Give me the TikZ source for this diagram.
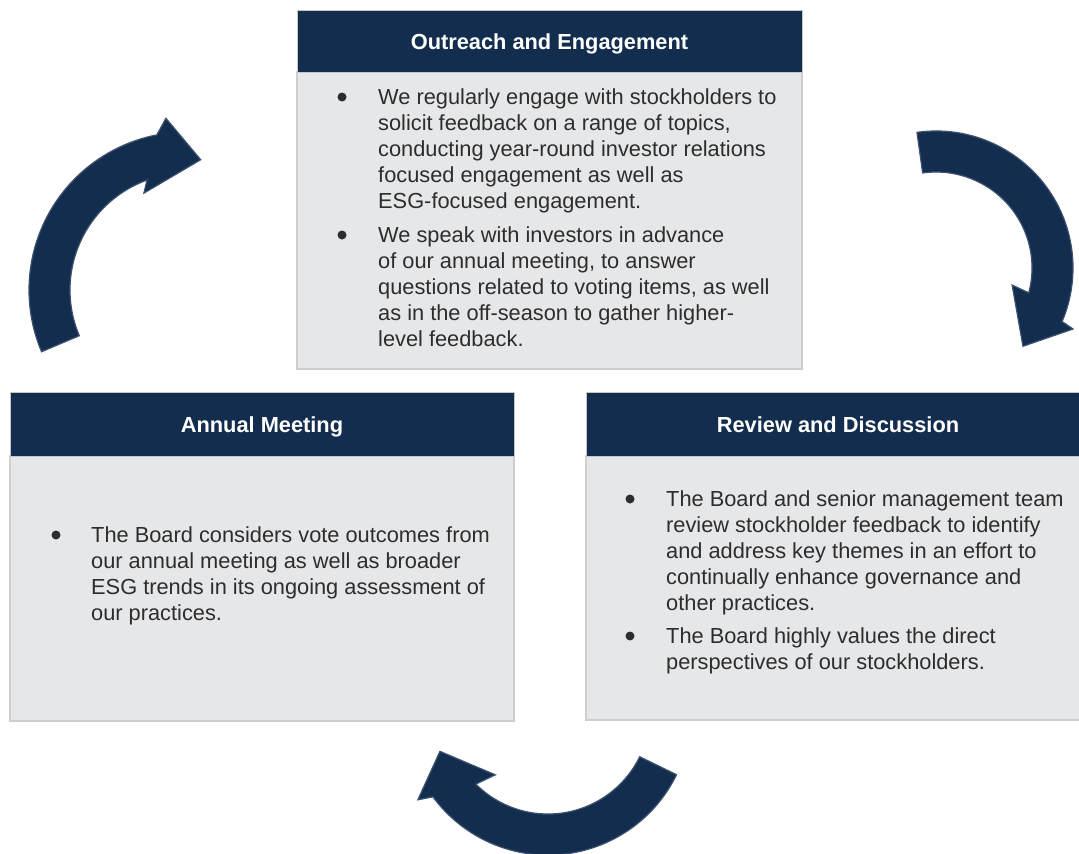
\documentclass[tikz,border=0pt]{standalone}
\usepackage{fontspec}
\setmainfont{Liberation Sans}
\definecolor{navy}{RGB}{19,45,78}
\definecolor{navyrim}{RGB}{62,82,112}
\definecolor{panel}{RGB}{230,231,233}
\definecolor{panelrim}{RGB}{205,206,208}
\definecolor{bodytext}{RGB}{45,45,45}
\tikzset{
  headbar/.style={rectangle, fill=navy, draw=gray!45, line width=0.8pt,
    anchor=north west, outer sep=0pt, inner sep=0pt,
    text=white, font=\bfseries\fontsize{21.8}{26}\selectfont,
    text height=20pt, text depth=4pt},
  panelbody/.style={rectangle, fill=panel, draw=panelrim, line width=2.5pt,
    anchor=north west, outer sep=0pt, inner sep=0pt},
  itemtext/.style={anchor=north west, align=left, inner sep=0pt,
    text=bodytext, font=\fontsize{21.8}{26}\selectfont},
  itemdot/.style={circle, fill=bodytext, inner sep=0pt, minimum size=9pt},
  cyclearrow/.style={fill=navy, draw=navyrim, line width=1.2pt, line join=miter}
}
\begin{document}
\begin{tikzpicture}[x=1pt,y=1pt]
\useasboundingbox (0,0) rectangle (1079,-854);

% ---- Outreach and Engagement ----
\node[panelbody, minimum width=505pt, minimum height=297pt] (oebody) at (297,-72) {};
\node[headbar, minimum width=505pt, minimum height=62pt] (oehead) at (297,-10) {Outreach and Engagement};
\node[itemdot] (oedot1) at (342,-97) {};
\node[itemtext] (oeitem1) at (378,-85.8) {\strut We regularly engage with stockholders to\\
solicit feedback on a range of topics,\\
conducting year-round investor relations\\
focused engagement as well as\\
ESG-focused engagement.};
\node[itemdot] (oedot2) at (342,-235) {};
\node[itemtext] (oeitem2) at (378,-223.8) {\strut We speak with investors in advance\\
of our annual meeting, to answer\\
questions related to voting items, as well\\
as in the off-season to gather higher-\\
level feedback.};

% ---- Annual Meeting ----
\node[panelbody, minimum width=504pt, minimum height=265pt] (ambody) at (10,-456) {};
\node[headbar, minimum width=504pt, minimum height=64pt] (amhead) at (10,-392) {Annual Meeting};
\node[itemdot] (amdot1) at (56,-535) {};
\node[itemtext] (amitem1) at (91,-523.8) {\strut The Board considers vote outcomes from\\
our annual meeting as well as broader\\
ESG trends in its ongoing assessment of\\
our practices.};

% ---- Review and Discussion ----
\node[panelbody, minimum width=504pt, minimum height=264pt] (rdbody) at (586,-456) {};
\node[headbar, minimum width=504pt, minimum height=64pt] (rdhead) at (586,-392) {Review and Discussion};
\node[itemdot] (rddot1) at (630,-499) {};
\node[itemtext] (rditem1) at (666,-487.8) {\strut The Board and senior management team\\
review stockholder feedback to identify\\
and address key themes in an effort to\\
continually enhance governance and\\
other practices.};
\node[itemdot] (rddot2) at (630,-636) {};
\node[itemtext] (rditem2) at (666,-624.8) {\strut The Board highly values the direct\\
perspectives of our stockholders.};

% ---- curved cycle arrows ----
% upper left: from Annual Meeting towards Outreach and Engagement
\begin{scope}[shift={(187,-290)}]
  \path[cyclearrow] (203:158pt) arc[start angle=203, end angle=101, radius=158pt]
    -- (97:173pt) -- (84:131pt) -- (114:106pt) -- (110:117pt)
    arc[start angle=110, end angle=203, radius=117pt] -- cycle;
\end{scope}
% upper right: from Outreach and Engagement towards Review and Discussion
\begin{scope}[shift={(936,-268)}]
  \path[cyclearrow] (98:137pt) arc[start angle=98, end angle=-23, radius=137pt]
    -- (-24:150pt) -- (-42:117pt) -- (-12.6:78pt) -- (-15:96pt)
    arc[start angle=-15, end angle=98, radius=96pt] -- cycle;
\end{scope}
% bottom: from Review and Discussion towards Annual Meeting
\begin{scope}[shift={(548,-712)}]
  \path[cyclearrow] (-26:143pt) arc[start angle=-26, end angle=-143.6, radius=143pt]
    -- (-146:157pt) -- (-160:115pt) -- (-130:82pt) -- (-135:102pt)
    arc[start angle=-135, end angle=-26, radius=102pt] -- cycle;
\end{scope}
\end{tikzpicture}
\end{document}
